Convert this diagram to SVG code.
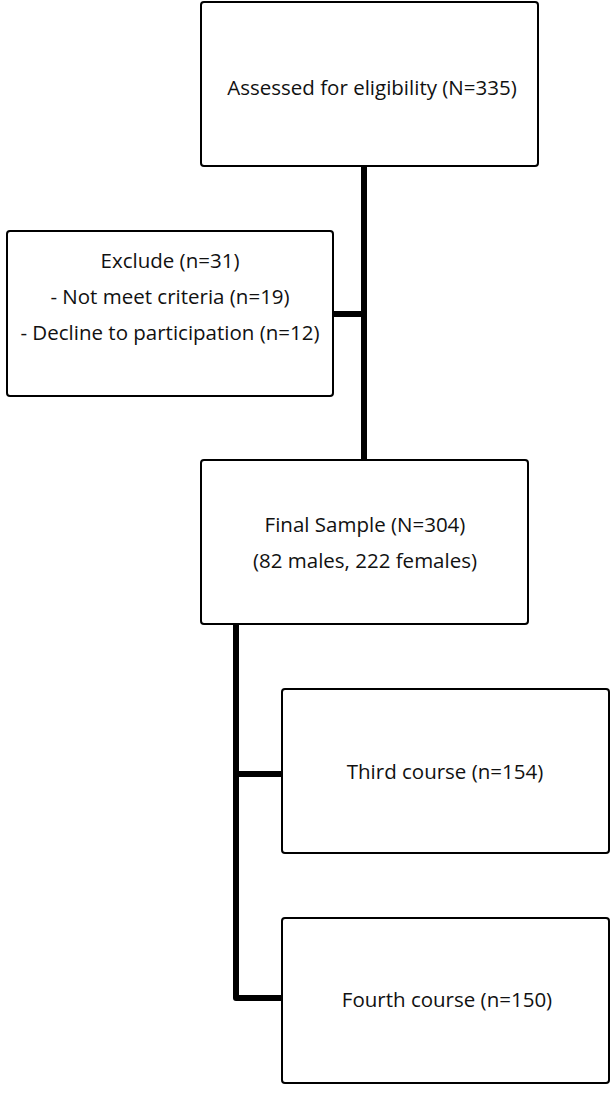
<svg xmlns="http://www.w3.org/2000/svg" width="615" height="1095" viewBox="0 0 615 1095">
<style>
.box{fill:#fff;stroke:#000;stroke-width:2}
.t{font-family:"Open Sans","Liberation Sans",sans-serif;font-size:20.5px;fill:#111;text-anchor:middle}
.c{stroke:#000;stroke-width:6;fill:none;stroke-linejoin:round}
</style>
<rect width="615" height="1095" fill="#fff"/>
<g id="connectors">
<path class="c" d="M364 167 V460"/>
<path class="c" d="M333 314 H364"/>
<path class="c" d="M236 624 V998 H282"/>
<path class="c" d="M236 774 H282"/>
</g>
<g id="n1">
<rect class="box" x="201" y="2" width="337" height="164" rx="3"/>
<text class="t" x="372" y="95">Assessed for eligibility (N=335)</text>
</g>
<g id="n2">
<rect class="box" x="7" y="231" width="326" height="165" rx="3"/>
<text class="t" x="170" y="268">Exclude (n=31)</text>
<text class="t" x="170" y="304">- Not meet criteria (n=19)</text>
<text class="t" x="170" y="340">- Decline to participation (n=12)</text>
</g>
<g id="n3">
<rect class="box" x="201" y="460" width="327" height="164" rx="3"/>
<text class="t" x="365" y="532">Final Sample (N=304)</text>
<text class="t" x="365" y="568">(82 males, 222 females)</text>
</g>
<g id="n4">
<rect class="box" x="282" y="689" width="327" height="164" rx="3"/>
<text class="t" x="445" y="779">Third course (n=154)</text>
</g>
<g id="n5">
<rect class="box" x="282" y="918" width="327" height="165" rx="3"/>
<text class="t" x="447" y="1007">Fourth course (n=150)</text>
</g>
</svg>
